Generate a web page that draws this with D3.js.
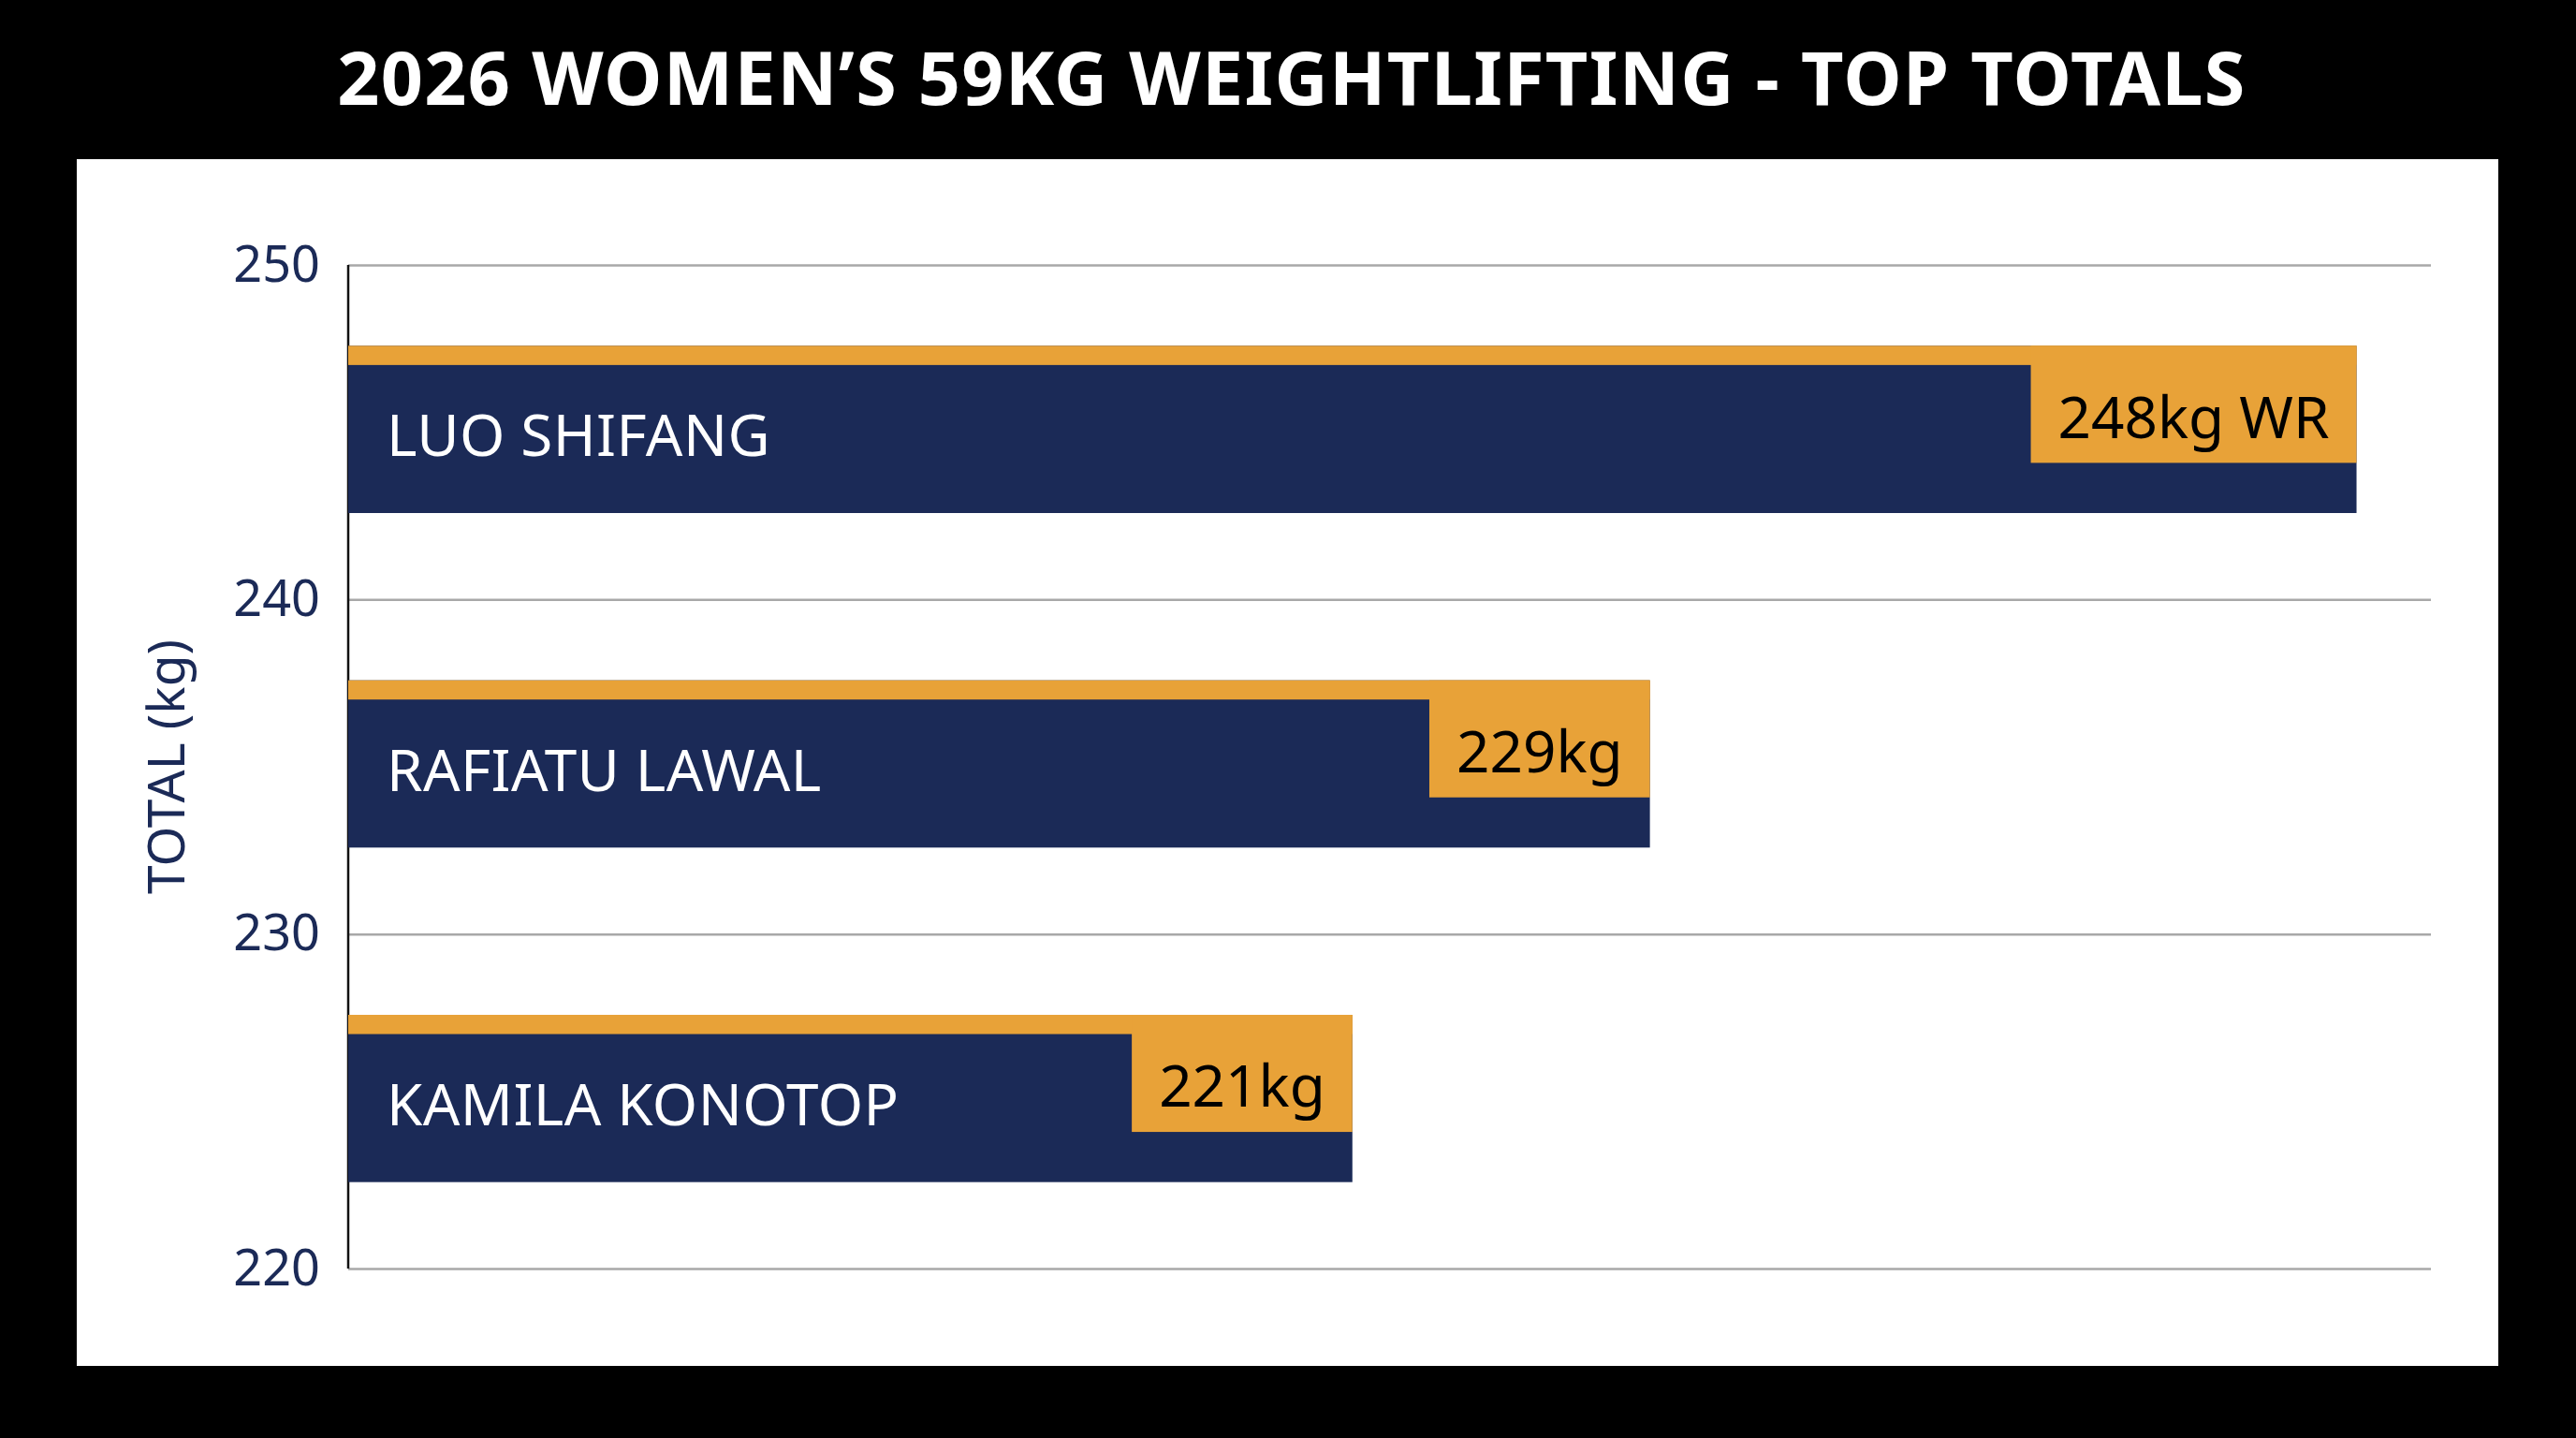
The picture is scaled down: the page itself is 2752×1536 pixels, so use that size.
<!DOCTYPE html>
<html>
<head>
<meta charset="utf-8">
<script src="https://cdn.jsdelivr.net/npm/d3@7"></script>
<style>
  body { margin: 0; background: #000; }
  svg { display: block; font-family: "Noto Sans", "Open Sans", sans-serif; }
</style>
</head>
<body>
<svg id="chart" width="2752" height="1536"></svg>
<script>
// data
const athletes = ["LUO SHIFANG", "RAFIATU LAWAL", "KAMILA KONOTOP"];
const totals = [248, 229, 221];
const valueLabels = ["248kg WR", "229kg", "221kg"];
const yTicks = [220, 230, 240, 250];

const navy = "#1b2a57",
    orange = "#e8a238";

const svg = d3.select("#chart"),
    width = +svg.attr("width"),
    height = +svg.attr("height");

const margin = {top: 283, right: 155, bottom: 181, left: 372};

svg.append("rect")
    .attr("width", width)
    .attr("height", height)
    .attr("fill", "#000");

// white card
svg.append("rect")
    .attr("x", 82).attr("y", 170)
    .attr("width", 2587).attr("height", 1289)
    .attr("fill", "#fff");

svg.append("text")
    .attr("x", width / 2 + 4)
    .attr("y", 112)
    .attr("text-anchor", "middle")
    .attr("fill", "#fff")
    .attr("font-size", 79)
    .attr("font-weight", 700)
    .attr("letter-spacing", 1.3)
    .text("2026 WOMEN\u2019S 59KG WEIGHTLIFTING - TOP TOTALS");

const y = d3.scaleLinear()
    .domain([220, 250])
    .range([height - margin.bottom, margin.top]);

const x = d3.scaleLinear()
    .domain([194, 250])
    .range([margin.left, width - margin.right]);

// bars sit in bands across the same vertical span as the value axis
const band = d3.scaleBand()
    .domain(athletes)
    .range([y(250) - 3, y(220) - 3])
    .paddingInner(0.5)
    .paddingOuter(0.25);

// grid + tick labels
const yAxis = svg.append("g")
    .attr("transform", `translate(${margin.left},0)`)
    .call(d3.axisLeft(y)
        .tickValues(yTicks)
        .tickSize(-(width - margin.right - margin.left))
        .tickPadding(30)
        .tickFormat(d3.format("d")));

yAxis.select(".domain").remove();
yAxis.selectAll(".tick line")
    .attr("stroke", "#a8a8a8")
    .attr("stroke-width", 2.5);
yAxis.selectAll(".tick text")
    .attr("fill", navy)
    .attr("font-size", 54)
    .attr("font-family", "Noto Sans, sans-serif");

svg.append("line")
    .attr("x1", margin.left).attr("x2", margin.left)
    .attr("y1", y(250)).attr("y2", y(220))
    .attr("stroke", "#111")
    .attr("stroke-width", 2.5);

svg.append("text")
    .attr("transform", `translate(197, ${(y(250) + y(220)) / 2}) rotate(-90)`)
    .attr("text-anchor", "middle")
    .attr("fill", navy)
    .attr("font-size", 55)
    .text("TOTAL (kg)");

const rows = athletes.map((name, i) => ({name, total: totals[i], label: valueLabels[i]}));
const bw = band.bandwidth();

const bar = svg.append("g").selectAll("g")
    .data(rows)
    .enter().append("g")
    .attr("transform", d => `translate(0,${band(d.name)})`);

bar.append("rect")
    .attr("x", x.range()[0])
    .attr("width", d => x(d.total) - x.range()[0])
    .attr("height", bw)
    .attr("fill", navy);

bar.append("rect")
    .attr("x", x.range()[0])
    .attr("width", d => x(d.total) - x.range()[0])
    .attr("height", bw * 0.115)
    .attr("fill", orange);

const pad = 29;

const boxes = bar.append("rect")
    .attr("height", bw * 0.7)
    .attr("fill", orange);

const valueText = bar.append("text")
    .attr("x", d => x(d.total) - pad)
    .attr("y", bw * 0.55)
    .attr("text-anchor", "end")
    .attr("fill", "#000")
    .attr("font-size", 62)
    .text(d => d.label);

valueText.each(function(d) {
    d.tw = this.getComputedTextLength();
});

boxes
    .attr("x", d => x(d.total) - d.tw - pad * 2)
    .attr("width", d => d.tw + pad * 2);

bar.append("text")
    .attr("x", x.range()[0] + 41)
    .attr("y", bw * 0.66)
    .attr("fill", "#fff")
    .attr("font-size", 62)
    .attr("letter-spacing", 0.4)
    .text(d => d.name);
</script>
</body>
</html>
